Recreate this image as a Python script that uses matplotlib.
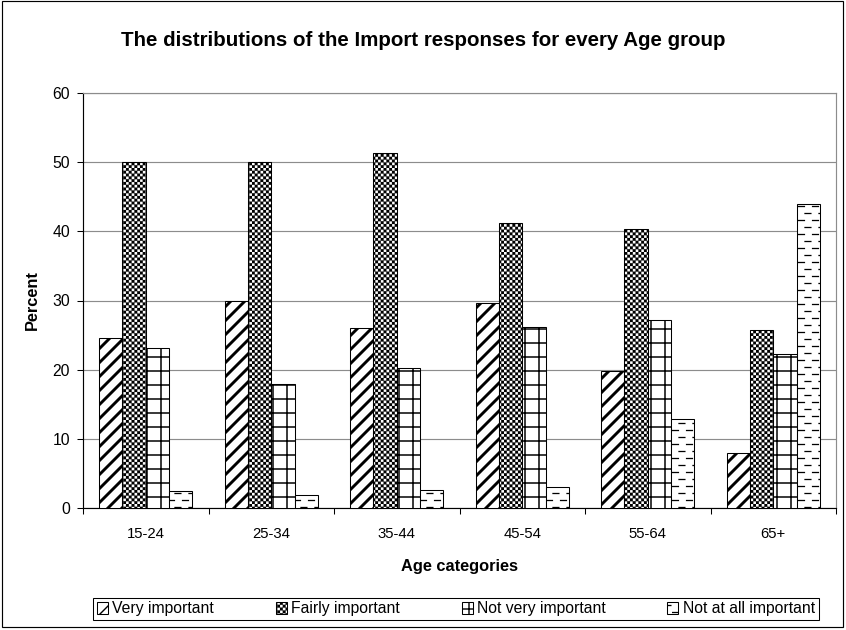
import numpy as np
import matplotlib
matplotlib.use("Agg")
import matplotlib as mpl
import matplotlib.pyplot as plt
from matplotlib import hatch as mhatch
from matplotlib.path import Path
from matplotlib.patches import Rectangle

# ---------------- data ----------------
categories = ["15-24", "25-34", "35-44", "45-54", "55-64", "65+"]
series_names = ["Very important", "Fairly important", "Not very important", "Not at all important"]
very_important = [24.6, 30.0, 26.0, 29.7, 19.8, 7.9]
fairly_important = [50.0, 50.0, 51.3, 41.2, 40.4, 25.8]
not_very_important = [23.1, 18.0, 20.3, 26.1, 27.2, 22.3]
not_at_all_important = [2.4, 1.9, 2.6, 3.0, 12.8, 44.0]
yticks = [0, 10, 20, 30, 40, 50, 60]

# ---------------- custom hatch patterns ----------------
class CheckerHatch(mhatch.HatchPatternBase):
    def __init__(self, hatch, density):
        self.n = int(hatch.count('O') * density)
        if self.n % 2:
            self.n += 1
        self.num_squares = (self.n * self.n) // 2
        self.num_vertices = self.num_squares * 5

    def set_vertices_and_codes(self, vertices, codes):
        n = self.n
        s = 1.0 / n
        k = 0
        for i in range(n):
            for j in range(n):
                if (i + j) % 2 == 0:
                    x0, y0 = i * s, j * s
                    vertices[k * 5:(k + 1) * 5] = [(x0, y0), (x0 + s, y0), (x0 + s, y0 + s),
                                                   (x0, y0 + s), (x0, y0)]
                    codes[k * 5:(k + 1) * 5] = [Path.MOVETO, Path.LINETO, Path.LINETO,
                                                Path.LINETO, Path.CLOSEPOLY]
                    k += 1


class DashHatch(mhatch.HatchPatternBase):
    def __init__(self, hatch, density):
        self.cols = int(hatch.count('*') * density)
        self.rows = self.cols * 2
        self.num_vertices = self.rows * self.cols * 2

    def set_vertices_and_codes(self, vertices, codes):
        if self.cols == 0:
            return
        dx = 1.0 / self.cols
        dy = 1.0 / self.rows
        L = 0.42 * dx
        k = 0
        for r in range(self.rows):
            off = 0.5 * dx if r % 2 else 0.04 * dx
            y = (r + 0.5) * dy
            for c in range(self.cols):
                x0 = c * dx + off
                vertices[k] = (x0, y)
                vertices[k + 1] = (x0 + L, y)
                codes[k] = Path.MOVETO
                codes[k + 1] = Path.LINETO
                k += 2


for i, cls in enumerate(list(mhatch._hatch_types)):
    if cls.__name__ == "LargeCircles":
        mhatch._hatch_types[i] = CheckerHatch
    elif cls.__name__ == "Stars":
        mhatch._hatch_types[i] = DashHatch


def with_hatch_lw(artist, lw):
    orig = artist.draw

    def draw(renderer, _orig=orig, _lw=lw):
        with mpl.rc_context({'hatch.linewidth': _lw}):
            _orig(renderer)
    artist.draw = draw
    if hasattr(artist, "set_hatch_linewidth"):
        try:
            artist.set_hatch_linewidth(lw)
        except Exception:
            pass


# ---------------- figure ----------------
DPI = 84
W, H = 846, 630
plt.rcParams['font.family'] = ['Liberation Sans', 'DejaVu Sans']
plt.rcParams['hatch.color'] = 'black'

fig = plt.figure(figsize=(W / DPI, H / DPI), dpi=DPI)
fig.patch.set_facecolor('white')

L, R, T, B = 83, 836, 93, 508
ax = fig.add_axes([L / W, 1 - B / H, (R - L) / W, (B - T) / H])

x = np.arange(len(categories))
bw = 0.186
values = [very_important, fairly_important, not_very_important, not_at_all_important]
hatches = ['//', 'OOOOO', '+', '*']
hatch_lws = [2.5, 0.15, 1.3, 1.1]

all_bars = []
for k, (vals, h, hl) in enumerate(zip(values, hatches, hatch_lws)):
    mpl.rcParams['hatch.linewidth'] = hl
    bars = ax.bar(x + (k - 1.5) * bw, vals, width=bw, facecolor='white',
                  edgecolor='black', linewidth=0.9, hatch=h, label=series_names[k],
                  zorder=3)
    for b in bars:
        with_hatch_lw(b, hl)
    all_bars.append(bars)
mpl.rcParams['hatch.linewidth'] = 1.0

ax.set_xlim(-0.5, len(categories) - 0.5)
ax.set_ylim(0, 60)
ax.set_yticks(yticks)
ax.set_yticklabels([str(v) for v in yticks])
ax.set_xticks(x)
ax.set_xticklabels(categories)
ax.set_xticks(np.arange(-0.5, len(categories), 1.0), minor=True)

ax.tick_params(axis='x', which='major', length=0, pad=16, labelsize=12.8)
ax.tick_params(axis='x', which='minor', length=5, width=0.9, direction='out', color='black')
ax.tick_params(axis='y', which='major', length=5, width=0.9, direction='out', pad=6,
               labelsize=13.5, color='black')

ax.yaxis.grid(True, color='#8c8c8c', linewidth=1.0)
ax.set_axisbelow(True)
for s in ['top', 'right']:
    ax.spines[s].set_color('#8c8c8c')
    ax.spines[s].set_linewidth(1.0)
for s in ['left', 'bottom']:
    ax.spines[s].set_color('black')
    ax.spines[s].set_linewidth(1.0)

fig.text(0.5, 1 - 40 / H, "The distributions of the Import responses for every Age group",
         ha='center', va='center', fontsize=17.6, fontweight='bold')
fig.text((L + R) / 2 / W, 1 - 567 / H, "Age categories", ha='center', va='center',
         fontsize=14, fontweight='bold')
fig.text(32 / W, 1 - 300 / H, "Percent", ha='center', va='center', rotation=90,
         fontsize=14, fontweight='bold')

leg = fig.legend(handles=all_bars, labels=series_names, loc='center',
                 bbox_to_anchor=(456 / W, 1 - 609 / H), ncol=4, frameon=True,
                 fancybox=False, edgecolor='black', framealpha=1, fontsize=13.5,
                 handlelength=0.7, handleheight=0.7, handletextpad=0.3,
                 columnspacing=3.9, borderpad=0.22, borderaxespad=0)
leg.get_frame().set_linewidth(0.9)
for p, hl in zip(leg.get_patches(), hatch_lws):
    with_hatch_lw(p, min(hl, 1.2))

fig.patches.append(Rectangle((2 / W, 3 / H), 841 / W, 626 / H, transform=fig.transFigure,
                             fill=False, edgecolor='black', linewidth=1.0, figure=fig))

fig.savefig("out.png", dpi=DPI, facecolor='white')
